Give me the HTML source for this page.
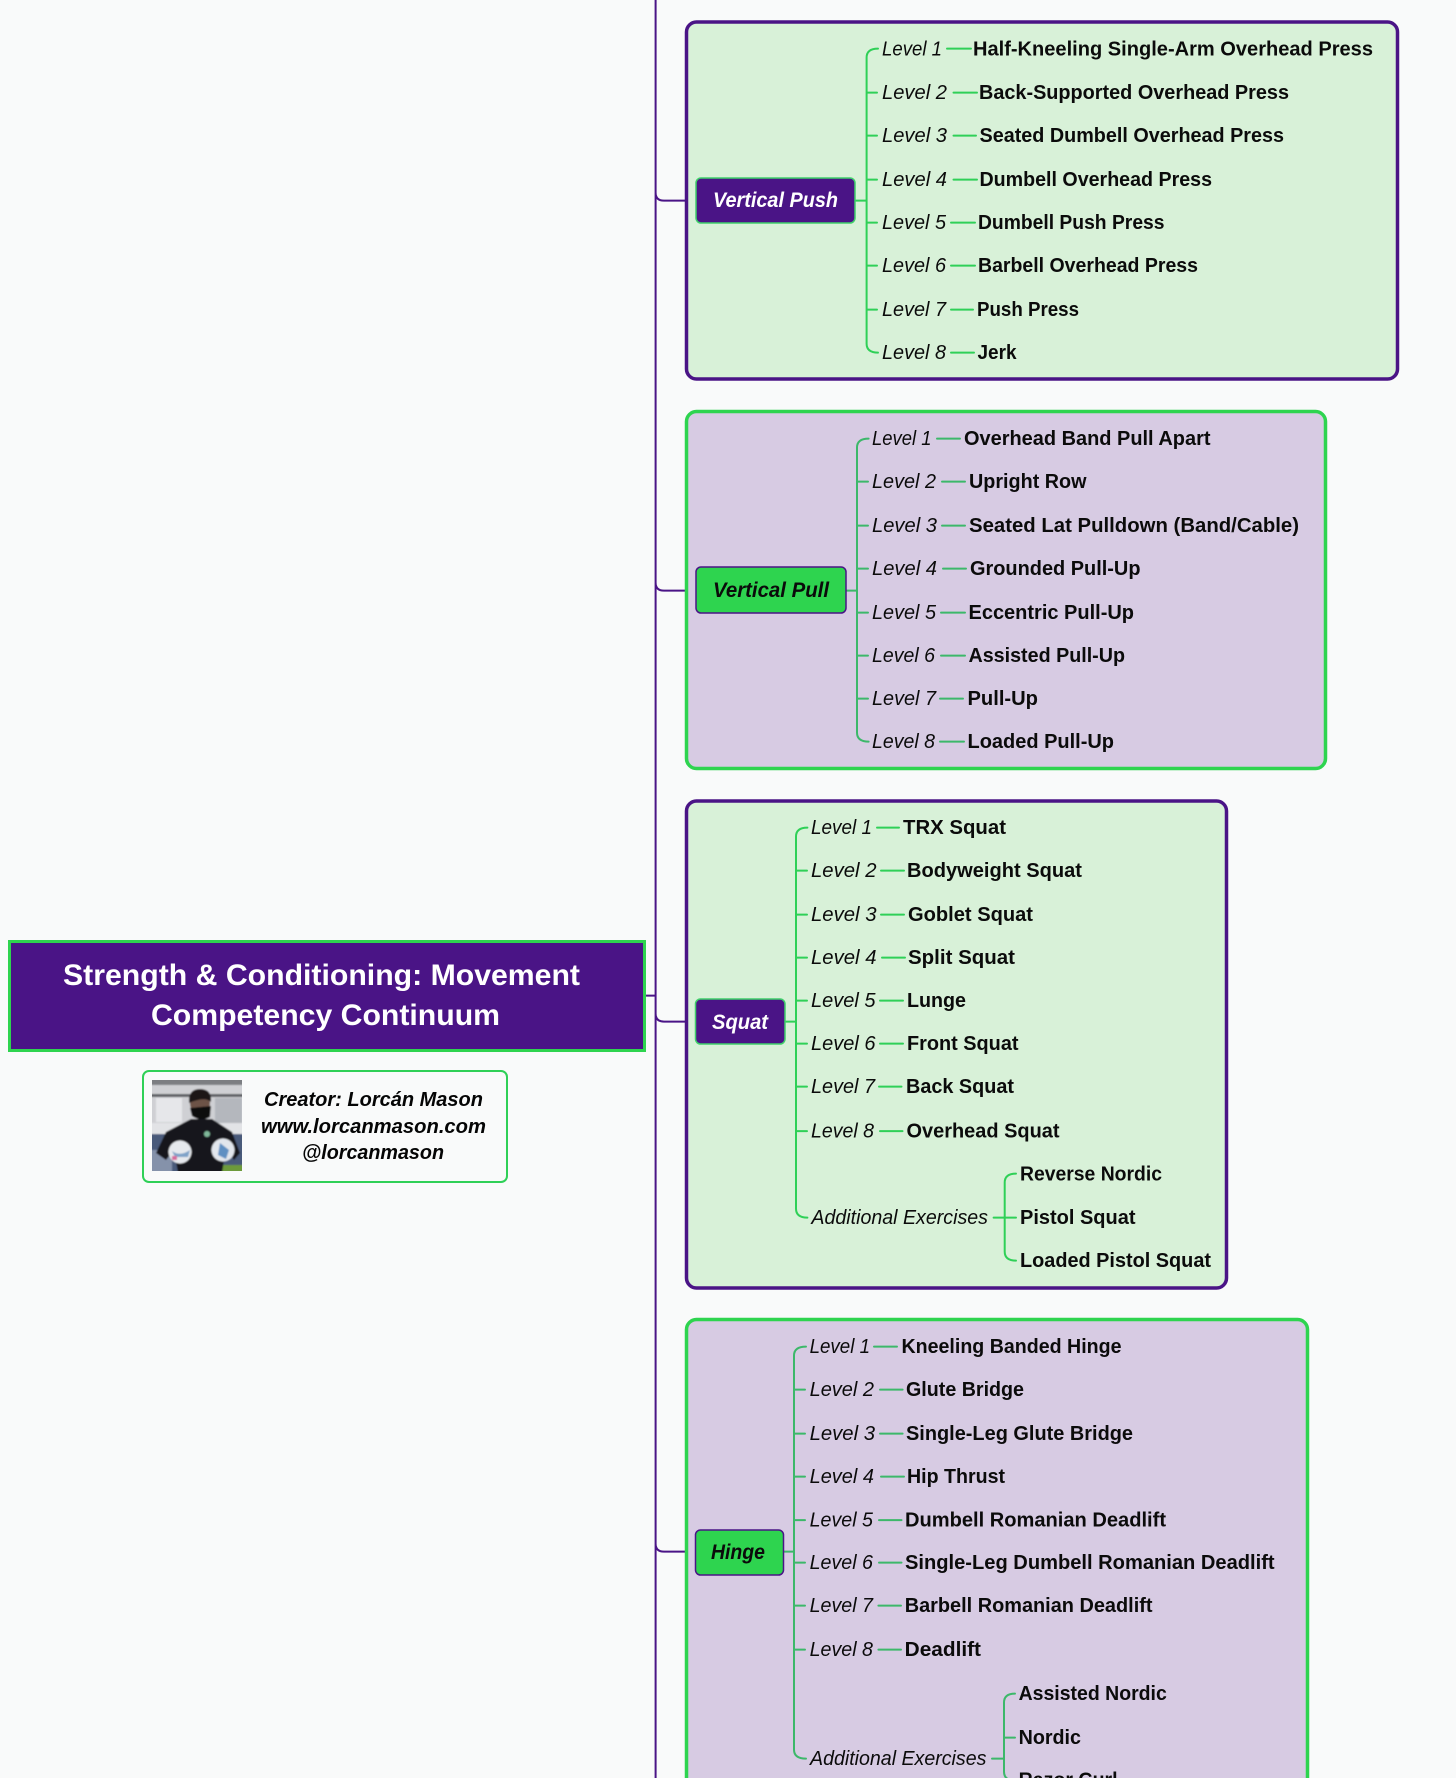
<!DOCTYPE html>
<html lang="en">
<head>
<meta charset="utf-8">
<title>Strength &amp; Conditioning: Movement Competency Continuum</title>
<style>
html,body{margin:0;padding:0;background:#f9fafa;width:1456px;height:1778px;overflow:hidden}
svg{display:block}
text{font-family:"Liberation Sans",sans-serif;font-size:20px;fill:#0b0b0b}
.b{font-weight:700;transform:translateY(-0.7px)}
.l{font-style:italic;font-weight:400;transform:translateY(-0.7px)}
.n{font-style:italic;font-weight:700;font-size:21px}
.t{font-weight:700;font-size:30px;fill:#fff}
.c{font-style:italic;font-weight:700;font-size:20px;fill:#050505}
.g,.h,.s{fill:none;stroke-linecap:round;transform:translateY(0.6px)}
.g{stroke:#2fd057;stroke-width:2}
.h{stroke:#3cb86a;stroke-width:2}
.s{stroke:#4a1486;stroke-width:2}
</style>
</head>
<body>
<svg width="1456" height="1778" viewBox="0 0 1456 1778" xmlns="http://www.w3.org/2000/svg">
<defs>
<clipPath id="ph"><rect x="152" y="1080" width="90" height="91"/></clipPath>
<filter id="bl" x="-5%" y="-5%" width="110%" height="110%"><feGaussianBlur stdDeviation="0.8"/></filter>
</defs>
<rect width="1456" height="1778" fill="#f9fafa"/>

<!-- spine -->
<path class="s" d="M655.6 -2V1780M646 995H655.6M655.6 192Q655.6 200 664 200H696M655.6 582Q655.6 590 664 590H696M655.6 1013Q655.6 1021 664 1021H695M655.6 1543Q655.6 1551 664 1551H695"/>

<!-- title -->
<rect x="9.5" y="941.5" width="635" height="109" fill="#4a1486" stroke="#2ed44f" stroke-width="3"/>
<text class="t" x="63" y="985" textLength="517" lengthAdjust="spacingAndGlyphs">Strength &amp; Conditioning: Movement</text>
<text class="t" x="151" y="1025" textLength="349" lengthAdjust="spacingAndGlyphs">Competency Continuum</text>

<!-- creator -->
<rect x="143" y="1071" width="364" height="111" rx="6" fill="#f9fafa" stroke="#2fd057" stroke-width="2"/>
<g clip-path="url(#ph)">
<g filter="url(#bl)">
<rect x="150" y="1078" width="94" height="95" fill="#cfd0d4"/>
<rect x="150" y="1078" width="94" height="7" fill="#7c7e82"/>
<rect x="150" y="1094" width="94" height="3" fill="#5f6165"/>
<rect x="156" y="1098" width="26" height="24" fill="#e6e7ea"/>
<rect x="215" y="1098" width="27" height="26" fill="#b4b7bd"/>
<rect x="150" y="1123" width="94" height="11" fill="#e2e3e6"/>
<rect x="150" y="1134" width="94" height="39" fill="#4a5a7a"/>
<rect x="150" y="1150" width="22" height="23" fill="#8592aa"/>
<rect x="222" y="1165" width="22" height="8" fill="#6d9a3a"/>
<path d="M191 1119L212 1119L232 1132L240 1153L234 1160L226 1148L222 1173H178L174 1150L166 1160L156 1153L166 1132Z" fill="#15171b"/>
<ellipse cx="200" cy="1103" rx="10" ry="13" fill="#6d5347"/>
<path d="M189 1103Q188 1089 200 1089Q212 1089 211 1102Q205 1096 189 1103Z" fill="#1b1718"/>
<path d="M190 1108L211 1106L210 1117Q201 1122 192 1116Z" fill="#08080a"/>
<circle cx="180" cy="1152" r="11.5" fill="#e6e9ed"/>
<circle cx="223" cy="1150" r="11.5" fill="#e2e6ec"/>
<path d="M172 1151Q180 1157 190 1150L188 1157H175Z" fill="#7ea2c8"/>
<path d="M220 1143L229 1150L226 1159L218 1155Z" fill="#5f8fc2"/>
<circle cx="207" cy="1134" r="3" fill="#7fb89a"/>
<rect x="172" y="1156" width="5" height="4" fill="#d76a9c"/>
</g>
</g>
<text class="c" x="264" y="1106" textLength="219" lengthAdjust="spacingAndGlyphs">Creator: Lorcán Mason</text>
<text class="c" x="261" y="1133" textLength="225" lengthAdjust="spacingAndGlyphs">www.lorcanmason.com</text>
<text class="c" x="302" y="1159" textLength="142" lengthAdjust="spacingAndGlyphs">@lorcanmason</text>

<!-- PANEL 1 -->
<rect x="686.5" y="22" width="711" height="357" rx="10" fill="#d8f1d8" stroke="#4a1486" stroke-width="3.5"/>
<path class="g" d="M855 200H866.6M878 48Q866.6 48 866.6 57V343Q866.6 352 878 352M866.6 92H877M866.6 135H877M866.6 179H877M866.6 222H877M866.6 265H877M866.6 309H877"/>
<path class="g" d="M947 48H971M953.5 92H977M953.5 135H976M953.5 179H977M951 222H975M951 265H975M951 309H973M951 352H974"/>
<rect x="696" y="178" width="159" height="45" rx="5" fill="#4a1486" stroke="#3fd06a" stroke-width="1.5"/>
<text class="n" x="713" y="207" textLength="125" lengthAdjust="spacingAndGlyphs" style="fill:#fff">Vertical Push</text>
<text class="l" x="882" y="56" textLength="60" lengthAdjust="spacingAndGlyphs">Level 1</text>
<text class="l" x="882" y="99.5" textLength="65" lengthAdjust="spacingAndGlyphs">Level 2</text>
<text class="l" x="882" y="142.5" textLength="65" lengthAdjust="spacingAndGlyphs">Level 3</text>
<text class="l" x="882" y="186.5" textLength="65" lengthAdjust="spacingAndGlyphs">Level 4</text>
<text class="l" x="882" y="229.5" textLength="64" lengthAdjust="spacingAndGlyphs">Level 5</text>
<text class="l" x="882" y="272.5" textLength="64" lengthAdjust="spacingAndGlyphs">Level 6</text>
<text class="l" x="882" y="316.5" textLength="64" lengthAdjust="spacingAndGlyphs">Level 7</text>
<text class="l" x="882" y="359.5" textLength="64" lengthAdjust="spacingAndGlyphs">Level 8</text>
<text class="b" x="973" y="56" textLength="400" lengthAdjust="spacingAndGlyphs">Half-Kneeling Single-Arm Overhead Press</text>
<text class="b" x="979" y="99.5" textLength="310" lengthAdjust="spacingAndGlyphs">Back-Supported Overhead Press</text>
<text class="b" x="979.5" y="142.5" textLength="304.5" lengthAdjust="spacingAndGlyphs">Seated Dumbell Overhead Press</text>
<text class="b" x="979.5" y="186.5" textLength="232.5" lengthAdjust="spacingAndGlyphs">Dumbell Overhead Press</text>
<text class="b" x="978" y="229.5" textLength="186.5" lengthAdjust="spacingAndGlyphs">Dumbell Push Press</text>
<text class="b" x="978" y="272.5" textLength="220" lengthAdjust="spacingAndGlyphs">Barbell Overhead Press</text>
<text class="b" x="977" y="316.5" textLength="102" lengthAdjust="spacingAndGlyphs">Push Press</text>
<text class="b" x="977.5" y="359.5" textLength="39" lengthAdjust="spacingAndGlyphs">Jerk</text>

<!-- PANEL 2 -->
<rect x="686.5" y="411.5" width="639" height="357" rx="10" fill="#d7cbe3" stroke="#2ed44f" stroke-width="3.5"/>
<path class="h" d="M846 590H857M868.6 438Q857 438 857 447V732Q857 741 868.6 741M857 481H868M857 525H868M857 568H868M857 612H868M857 655H868M857 698H868"/>
<path class="h" d="M937 438H960M942 481H965M942 525H965M943 568H966M941 612H965M941 655H965M940 698H963M940 741H964"/>
<rect x="696" y="567" width="150" height="46" rx="5" fill="#2ed44f" stroke="#4a1486" stroke-width="1.5"/>
<text class="n" x="713" y="597" textLength="116" lengthAdjust="spacingAndGlyphs">Vertical Pull</text>
<text class="l" x="872" y="445.5" textLength="59.5" lengthAdjust="spacingAndGlyphs">Level 1</text>
<text class="l" x="872" y="488.5" textLength="64" lengthAdjust="spacingAndGlyphs">Level 2</text>
<text class="l" x="872" y="532.5" textLength="65" lengthAdjust="spacingAndGlyphs">Level 3</text>
<text class="l" x="872" y="575.5" textLength="65" lengthAdjust="spacingAndGlyphs">Level 4</text>
<text class="l" x="872" y="619.5" textLength="64" lengthAdjust="spacingAndGlyphs">Level 5</text>
<text class="l" x="872" y="662.5" textLength="63" lengthAdjust="spacingAndGlyphs">Level 6</text>
<text class="l" x="872" y="705.5" textLength="64" lengthAdjust="spacingAndGlyphs">Level 7</text>
<text class="l" x="872" y="748.5" textLength="63" lengthAdjust="spacingAndGlyphs">Level 8</text>
<text class="b" x="964" y="445.5" textLength="246.5" lengthAdjust="spacingAndGlyphs">Overhead Band Pull Apart</text>
<text class="b" x="969" y="488.5" textLength="117.5" lengthAdjust="spacingAndGlyphs">Upright Row</text>
<text class="b" x="969" y="532.5" textLength="330" lengthAdjust="spacingAndGlyphs">Seated Lat Pulldown (Band/Cable)</text>
<text class="b" x="970" y="575.5" textLength="170.5" lengthAdjust="spacingAndGlyphs">Grounded Pull-Up</text>
<text class="b" x="968.5" y="619.5" textLength="165.5" lengthAdjust="spacingAndGlyphs">Eccentric Pull-Up</text>
<text class="b" x="968.5" y="662.5" textLength="156.5" lengthAdjust="spacingAndGlyphs">Assisted Pull-Up</text>
<text class="b" x="967.5" y="705.5" textLength="70.5" lengthAdjust="spacingAndGlyphs">Pull-Up</text>
<text class="b" x="967.5" y="748.5" textLength="146.5" lengthAdjust="spacingAndGlyphs">Loaded Pull-Up</text>

<!-- PANEL 3 -->
<rect x="686.5" y="801" width="540" height="487" rx="10" fill="#d8f1d8" stroke="#4a1486" stroke-width="3.5"/>
<path class="g" d="M785 1021H796M807.4 827Q796 827 796 836V1208Q796 1217 807.4 1217M796 870H807M796 914H807M796 957H807M796 1000H807M796 1043H807M796 1086H807M796 1130.5H807"/>
<path class="g" d="M877 827H899M881 870H904M881 914H904M882 957H905M880 1000H903M880 1043H903M879 1086H901.5M880 1130.5H902.5"/>
<path class="g" d="M993.6 1217H1016M1016 1173Q1004.7 1173 1004.7 1182V1251Q1004.7 1260 1016 1260"/>
<rect x="695.5" y="999" width="89.5" height="45" rx="5" fill="#4a1486" stroke="#3fd06a" stroke-width="1.5"/>
<text class="n" x="712" y="1029" textLength="56" lengthAdjust="spacingAndGlyphs" style="fill:#fff">Squat</text>
<text class="l" x="811" y="834.5" textLength="61" lengthAdjust="spacingAndGlyphs">Level 1</text>
<text class="l" x="811" y="877.5" textLength="65.5" lengthAdjust="spacingAndGlyphs">Level 2</text>
<text class="l" x="811" y="921.5" textLength="65.5" lengthAdjust="spacingAndGlyphs">Level 3</text>
<text class="l" x="811" y="964.5" textLength="65.5" lengthAdjust="spacingAndGlyphs">Level 4</text>
<text class="l" x="811" y="1007.5" textLength="64.5" lengthAdjust="spacingAndGlyphs">Level 5</text>
<text class="l" x="811" y="1050.5" textLength="64.5" lengthAdjust="spacingAndGlyphs">Level 6</text>
<text class="l" x="811" y="1093.5" textLength="64" lengthAdjust="spacingAndGlyphs">Level 7</text>
<text class="l" x="811" y="1138" textLength="63" lengthAdjust="spacingAndGlyphs">Level 8</text>
<text class="l" x="811.4" y="1224.5" textLength="176.6" lengthAdjust="spacingAndGlyphs">Additional Exercises</text>
<text class="b" x="903" y="834.5" textLength="103" lengthAdjust="spacingAndGlyphs">TRX Squat</text>
<text class="b" x="907" y="877.5" textLength="175" lengthAdjust="spacingAndGlyphs">Bodyweight Squat</text>
<text class="b" x="908" y="921.5" textLength="125" lengthAdjust="spacingAndGlyphs">Goblet Squat</text>
<text class="b" x="908" y="964.5" textLength="107" lengthAdjust="spacingAndGlyphs">Split Squat</text>
<text class="b" x="907" y="1007.5" textLength="59" lengthAdjust="spacingAndGlyphs">Lunge</text>
<text class="b" x="907" y="1050.5" textLength="111.5" lengthAdjust="spacingAndGlyphs">Front Squat</text>
<text class="b" x="906" y="1093.5" textLength="108" lengthAdjust="spacingAndGlyphs">Back Squat</text>
<text class="b" x="906.5" y="1138" textLength="153" lengthAdjust="spacingAndGlyphs">Overhead Squat</text>
<text class="b" x="1020" y="1181" textLength="142" lengthAdjust="spacingAndGlyphs">Reverse Nordic</text>
<text class="b" x="1020" y="1224.5" textLength="115.5" lengthAdjust="spacingAndGlyphs">Pistol Squat</text>
<text class="b" x="1020" y="1267.5" textLength="191" lengthAdjust="spacingAndGlyphs">Loaded Pistol Squat</text>

<!-- PANEL 4 -->
<rect x="686.5" y="1319.5" width="621" height="500" rx="10" fill="#d7cbe3" stroke="#2ed44f" stroke-width="3.5"/>
<path class="h" d="M784 1551H794M806 1346Q794 1346 794 1355V1749Q794 1758 806 1758M794 1389H805M794 1433H805M794 1476H805M794 1519.5H805M794 1562H805M794 1605H805M794 1649H805"/>
<path class="h" d="M874 1346H897M880 1389H902.6M880 1433H902.6M881 1476H904M879 1519.5H901.5M879 1562H901.5M878.4 1605H901M878.4 1649H901"/>
<path class="h" d="M992 1758H1004M1015 1693Q1004 1693 1004 1702V1771Q1004 1780 1015 1780M1004 1737H1015"/>
<rect x="695.5" y="1530" width="88" height="45" rx="5" fill="#2ed44f" stroke="#4a1486" stroke-width="1.5"/>
<text class="n" x="711" y="1559" textLength="54" lengthAdjust="spacingAndGlyphs">Hinge</text>
<text class="l" x="809.6" y="1353.5" textLength="60.4" lengthAdjust="spacingAndGlyphs">Level 1</text>
<text class="l" x="809.6" y="1396.5" textLength="64.4" lengthAdjust="spacingAndGlyphs">Level 2</text>
<text class="l" x="809.6" y="1440.5" textLength="65.4" lengthAdjust="spacingAndGlyphs">Level 3</text>
<text class="l" x="809.6" y="1483.5" textLength="64.4" lengthAdjust="spacingAndGlyphs">Level 4</text>
<text class="l" x="809.6" y="1527" textLength="63.4" lengthAdjust="spacingAndGlyphs">Level 5</text>
<text class="l" x="809.6" y="1569.5" textLength="63.4" lengthAdjust="spacingAndGlyphs">Level 6</text>
<text class="l" x="809.6" y="1612.5" textLength="63.4" lengthAdjust="spacingAndGlyphs">Level 7</text>
<text class="l" x="809.6" y="1656.5" textLength="63.4" lengthAdjust="spacingAndGlyphs">Level 8</text>
<text class="l" x="810" y="1765.5" textLength="176.4" lengthAdjust="spacingAndGlyphs">Additional Exercises</text>
<text class="b" x="901.5" y="1353.5" textLength="220" lengthAdjust="spacingAndGlyphs">Kneeling Banded Hinge</text>
<text class="b" x="906" y="1396.5" textLength="118" lengthAdjust="spacingAndGlyphs">Glute Bridge</text>
<text class="b" x="906" y="1440.5" textLength="227" lengthAdjust="spacingAndGlyphs">Single-Leg Glute Bridge</text>
<text class="b" x="907" y="1483.5" textLength="98" lengthAdjust="spacingAndGlyphs">Hip Thrust</text>
<text class="b" x="905" y="1527" textLength="261" lengthAdjust="spacingAndGlyphs">Dumbell Romanian Deadlift</text>
<text class="b" x="905" y="1569.5" textLength="369.6" lengthAdjust="spacingAndGlyphs">Single-Leg Dumbell Romanian Deadlift</text>
<text class="b" x="904.7" y="1612.5" textLength="247.8" lengthAdjust="spacingAndGlyphs">Barbell Romanian Deadlift</text>
<text class="b" x="904.7" y="1656.5" textLength="76.3" lengthAdjust="spacingAndGlyphs">Deadlift</text>
<text class="b" x="1018.6" y="1700.5" textLength="148.2" lengthAdjust="spacingAndGlyphs">Assisted Nordic</text>
<text class="b" x="1018.6" y="1744.5" textLength="62.4" lengthAdjust="spacingAndGlyphs">Nordic</text>
<text class="b" x="1018.6" y="1787" textLength="99" lengthAdjust="spacingAndGlyphs">Razor Curl</text>
</svg>
</body>
</html>
